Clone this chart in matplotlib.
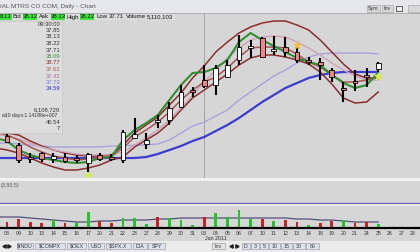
import matplotlib
matplotlib.use("Agg")
import matplotlib.pyplot as plt
from matplotlib.patches import Rectangle
from matplotlib import font_manager
import numpy as np

_names = {f.name for f in font_manager.fontManager.ttflist}
FONT = 'Liberation Sans Narrow' if 'Liberation Sans Narrow' in _names else 'Liberation Sans'
plt.rcParams['font.family'] = [FONT, 'DejaVu Sans']

# ---------------- data ----------------
date_labels = ['08', '09', '10', '13', '14', '15', '16', '17', '20', '21', '22', '23', '27', '28',
               '29', '30', '31', '03', '04', '05', '06', '07', '10', '11', '12', '13', '14', '18',
               '19', '20', '21', '24', '25', '26', '27', '28']

opens = [34.50, 34.05, 33.45, 33.65, 33.35, 33.45, 33.40, 33.15, 33.55, 33.45, 33.30, 34.40,
         34.10, 35.20, 35.30, 35.95, 36.80, 37.30, 37.05, 37.45, 38.30, 38.90, 39.40, 38.75,
         38.95, 38.70, 38.30, 38.20, 37.80, 36.90, 37.25, 37.55, 37.85]
highs = [34.65, 34.15, 33.65, 33.70, 33.65, 33.65, 33.55, 33.65, 33.65, 33.60, 34.80, 35.40,
         34.65, 35.55, 36.20, 37.05, 36.95, 38.05, 38.05, 38.30, 39.55, 39.30, 39.45, 39.50,
         39.45, 39.05, 38.45, 38.40, 37.90, 37.20, 37.80, 37.90, 38.22]
lows = [34.15, 33.15, 33.15, 33.20, 33.15, 33.15, 33.15, 32.70, 33.25, 33.25, 33.15, 34.35,
        33.85, 34.90, 35.05, 35.90, 36.45, 36.90, 36.55, 37.40, 38.05, 38.40, 38.40, 38.55,
        38.45, 38.15, 38.05, 37.30, 37.20, 36.20, 36.75, 36.95, 37.71]
closes = [34.20, 33.30, 33.35, 33.35, 33.50, 33.25, 33.30, 33.60, 33.35, 33.35, 34.70, 34.60,
          34.30, 35.30, 35.90, 36.70, 36.70, 37.00, 37.90, 38.05, 38.95, 39.00, 38.45, 38.85,
          38.70, 38.30, 38.20, 38.05, 37.45, 36.80, 37.15, 37.45, 38.13]

# indicator lines, from the session before Dec 08 (index -1) to Jan 25
line_start = -1
ma_green = [34.40, 34.25, 33.80, 33.55, 33.40, 33.30, 33.20, 33.15, 33.20, 33.40, 33.45, 34.30,
            34.80, 35.15, 35.55, 36.30, 37.05, 37.65, 37.70, 37.90, 38.30, 39.20, 39.65, 39.30,
            39.00, 38.70, 38.40, 38.20, 38.05, 37.55, 37.15, 36.90, 37.05, 37.65]
band_upper = [34.70, 34.65, 34.55, 34.25, 34.00, 33.80, 33.65, 33.55, 33.50, 33.50, 33.55, 34.05,
              34.65, 35.05, 35.45, 36.05, 36.65, 37.40, 38.00, 38.70, 39.20, 39.65, 39.95, 40.15,
              40.25, 40.25, 40.05, 39.80, 39.30, 38.70, 38.10, 37.60, 37.40, 37.40]
ma_redbrown = [34.70, 34.55, 34.30, 33.95, 33.70, 33.50, 33.40, 33.30, 33.35, 33.45, 33.50, 33.90,
               34.45, 34.80, 35.20, 35.70, 36.30, 36.80, 37.20, 37.45, 37.90, 38.45, 38.90, 38.95,
               38.95, 38.90, 38.60, 38.20, 37.95, 37.55, 37.20, 37.20, 37.30, 37.45]
ma_mauve = [34.60, 34.50, 34.35, 34.15, 33.95, 33.80, 33.70, 33.60, 33.55, 33.55, 33.55, 33.70,
            34.05, 34.40, 34.80, 35.30, 35.90, 36.55, 37.20, 37.80, 38.40, 38.90, 39.30, 39.45,
            39.50, 39.45, 39.20, 38.90, 38.55, 38.15, 37.80, 37.50, 37.30, 37.30]
band_lower = [33.90, 33.80, 33.65, 33.40, 33.15, 32.95, 32.80, 32.80, 32.90, 33.05, 33.30, 33.45,
              33.95, 34.30, 34.65, 35.15, 35.80, 36.40, 36.80, 37.20, 37.60, 38.05, 38.40, 38.55,
              38.55, 38.45, 38.30, 38.10, 37.70, 37.10, 36.40, 36.15, 36.20, 36.70]
ma_lavender = [34.15, 34.15, 34.10, 34.05, 34.00, 33.95, 33.95, 33.95, 33.95, 33.95, 34.00, 34.00,
               34.05, 34.05, 34.10, 34.30, 34.65, 35.00, 35.20, 35.50, 35.80, 36.30, 36.70, 37.10,
               37.50, 37.80, 38.15, 38.45, 38.60, 38.65, 38.65, 38.65, 38.65, 38.60]
ma_blue = [33.40, 33.40, 33.40, 33.40, 33.40, 33.40, 33.40, 33.40, 33.40, 33.40, 33.40, 33.40,
           33.40, 33.45, 33.60, 33.80, 34.00, 34.25, 34.45, 34.75, 35.05, 35.40, 35.80, 36.20,
           36.55, 36.90, 37.15, 37.40, 37.55, 37.65, 37.70, 37.70, 37.70, 37.70]

signal_idx = [7, 25, 32]
signal_price = [32.55, 39.05, 37.50]

volume_m = [7.2, 10.8, 7.2, 6.0, 9.6, 6.0, 6.0, 19.2, 8.4, 6.0, 12.0, 12.0, 4.8, 13.2, 12.0, 9.6,
            3.6, 13.2, 18.0, 13.2, 21.6, 10.8, 10.8, 8.4, 9.6, 7.2, 3.6, 6.0, 8.4, 9.6, 6.0, 7.2, 5.1]
volume_dir = ['d', 'd', 'd', 'd', 'u', 'd', 'u', 'u', 'd', 'd', 'u', 'u', 'u', 'd', 'u', 'u', 'u',
              'd', 'u', 'u', 'u', 'u', 'd', 'u', 'd', 'd', 'u', 'd', 'd', 'u', 'd', 'd', 'u']
volume_avg_m = [13.2, 13.2, 13.2, 12.0, 10.8, 9.6, 8.4, 7.2, 7.2, 8.4, 8.4, 9.6, 9.6, 9.6, 10.8,
                10.8, 12.0, 12.0, 12.0, 12.0, 12.0, 12.0, 12.0, 12.0, 12.0, 12.0, 10.8, 10.8, 9.6,
                9.6, 8.4, 7.2, 7.2, 7.2]

# ---------------- layout helpers ----------------
W, H = 420, 252
fig = plt.figure(figsize=(4.2, 2.52), dpi=100)
fig.patch.set_facecolor('#d5d5d5')


def box(x0, y0, x1, y1):
    return [x0 / W, 1 - y1 / H, (x1 - x0) / W, (y1 - y0) / H]


XLIM = (-0.603, 35.603)
CHART_BG = '#d6d6d6'

# ---------------- main price panel ----------------
ax = fig.add_axes(box(0, 13, 420, 178))
ax.set_facecolor(CHART_BG)
ax.set_xlim(*XLIM)
ax.set_ylim(32.40, 40.65)
ax.axis('off')
ax.add_patch(Rectangle((0, 0), 1, 1, transform=ax.transAxes, fc=CHART_BG, ec='none', zorder=0))
ax.axvline(17, color='#9a9a9a', lw=0.6, zorder=1)

lx = np.arange(line_start, line_start + len(ma_green))
ax.plot(lx, ma_blue, color='#3c3cd2', lw=1.6, zorder=2, solid_capstyle='butt')
ax.plot(lx, ma_lavender, color='#a9a2dc', lw=1.0, zorder=2)
ax.plot(lx, band_lower, color='#8a2e2e', lw=1.1, zorder=2)
ax.plot(lx, band_upper, color='#8a2e2e', lw=1.1, zorder=2)
ax.plot(lx, ma_mauve, color='#cfa2b6', lw=1.0, zorder=2)
ax.plot(lx, ma_redbrown, color='#a65454', lw=1.1, zorder=2)
ax.plot(lx, ma_green, color='#2f8f2f', lw=1.5, zorder=3)

for i, (o, h, l, c) in enumerate(zip(opens, highs, lows, closes)):
    ax.vlines(i, l, h, color='black', lw=1.5, zorder=4)
    up = c >= o
    ax.add_patch(Rectangle((i - 0.21, min(o, c)), 0.42, max(abs(c - o), 0.04),
                           fc='white' if up else '#f08686', ec='black', lw=0.6, zorder=5))

ax.plot(signal_idx[0], signal_price[0], marker='*', ms=5, color='#d6ec4a', ls='none', zorder=6)
ax.plot(signal_idx[1], signal_price[1], marker='*', ms=5, color='#f2c23c', ls='none', zorder=6)
ax.plot(signal_idx[2], signal_price[2], marker='*', ms=5, color='#d6ec4a', ls='none', zorder=6)

# ---------------- indicator panel ----------------
ai = fig.add_axes(box(0, 181, 420, 204))
ai.set_facecolor(CHART_BG)
ai.set_xlim(*XLIM)
ai.set_ylim(0, 1)
ai.axis('off')
ai.add_patch(Rectangle((0, 0), 1, 1, transform=ai.transAxes, fc=CHART_BG, ec='none', zorder=0))
ai.axhline(0.05, color='#6a64b0', lw=0.9)

# ---------------- volume panel ----------------
av = fig.add_axes(box(0, 206, 420, 228))
av.set_facecolor(CHART_BG)
av.set_xlim(*XLIM)
av.set_ylim(0, 26.4)
for s in av.spines.values():
    s.set_visible(False)
vcol = ['#22c622' if d == 'u' else '#cc2020' for d in volume_dir]
av.bar(np.arange(len(volume_m)), volume_m, width=0.25, color=vcol, zorder=3)
av.plot(np.arange(line_start, line_start + len(volume_avg_m)), volume_avg_m,
        color='#50507a', lw=0.9, zorder=2)
av.axhline(0, color='black', lw=1.6, zorder=4, clip_on=False)
av.set_yticks([])
av.set_xticks(np.arange(len(date_labels)))
av.set_xticklabels(date_labels, fontsize=3.8, color='#333333')
av.tick_params(axis='x', length=0, pad=2.0)

# ---------------- overlay (chrome) ----------------
ov = fig.add_axes([0, 0, 1, 1], zorder=10)
ov.set_xlim(0, W)
ov.set_ylim(H, 0)
ov.axis('off')
ov.patch.set_alpha(0)

# separators
ov.add_patch(Rectangle((0, 178), 420, 3, fc='#f2f2f2', ec='none'))
ov.add_patch(Rectangle((0, 204), 420, 2, fc='#e9e9e9', ec='none'))

# title bar
ov.add_patch(Rectangle((0, 0), 420, 12.5, fc='#e6e7ea', ec='none'))
ov.plot([0, 420], [12.5, 12.5], color='#a8a8a8', lw=0.6)
ov.text(0.5, 6.5, 'IAL MTRS CO COM, Daily - Chart', fontsize=4.6, color='#555555',
        va='center', ha='left')
for (x0, x1, t) in [(367, 380, 'Sym'), (382, 393, 'Inv')]:
    ov.add_patch(Rectangle((x0, 4.5), x1 - x0, 7, fc='#d8d8d8', ec='#9a9a9a', lw=0.4))
    ov.text((x0 + x1) / 2, 8.2, t, fontsize=3.8, ha='center', va='center', color='#333333')
ov.add_patch(Rectangle((395.5, 5.5), 6, 5, fc='#f4f4f4', ec='#444444', lw=0.6))
ov.add_patch(Rectangle((408, 4.5), 12, 7, fc='#d8d8d8', ec='#9a9a9a', lw=0.4))

# quote line
quote = [(0, 12, '8.13', True), (13, 21, 'Bid', False), (23, 37, '38.12', True),
         (40, 48, 'Ask', False), (51, 65, '38.13', True), (68, 78, 'High', False),
         (80, 94, '38.22', True), (97, 107, 'Low', False), (109, 123, '37.71', False),
         (126, 145, 'Volume', False), (147, 173, '5,110,103', False)]
ov.add_patch(Rectangle((0, 13.5), 175, 6.5, fc='#dcdcdc', ec='none'))
for x0, x1, t, g in quote:
    if g:
        ov.add_patch(Rectangle((x0, 14), x1 - x0, 5.8, fc='#3de33d', ec='none'))
    ov.text((x0 + x1) / 2, 17, t, fontsize=4.3, ha='center', va='center', color='#111111')

# left data window
ov.add_patch(Rectangle((-1, 20.5), 62.5, 112.5, fc='#dedede', ec='#c6c6c6', lw=0.5, alpha=0.92))
legend_rows = [(24, '09:30:00', '#333333'), (30.5, '37.85', '#333333'), (37, '38.13', '#333333'),
               (43.5, '38.22', '#333333'), (50, '37.71', '#333333'), (56.5, '38.09', '#3a8a3a'),
               (63, '38.77', '#8a2e2e'), (69.5, '37.62', '#b05a5a'), (76, '37.42', '#a86a96'),
               (82.5, '37.73', '#7a74cc'), (89, '34.59', '#3030d0'),
               (110, '6,108,729', '#333333'), (122, '40.54', '#333333'), (128, '7', '#333333')]
for y, t, c in legend_rows:
    ov.text(60, y, t, fontsize=4.2, ha='right', va='center', color=c)
ov.text(0.8, 116, 'w10 days:1.14186e+007', fontsize=3.7, ha='left', va='center',
        color='#333333')

ov.text(0.8, 185, '(3,50,5)', fontsize=3.8, ha='left', va='center', color='#555555')
ov.text(205, 238, 'Jan 2011', fontsize=3.8, ha='left', va='center', color='#333333')

# bottom tab bar
ov.add_patch(Rectangle((0, 241), 420, 11, fc='#ebebeb', ec='none'))
ov.plot([3.5], [246], marker='<', ms=2.4, color='#222222', ls='none')
ov.plot([9], [246], marker='>', ms=2.4, color='#222222', ls='none')
tabs = [(17, 33, '$INDU'), (35, 65, '$COMPX'), (67, 86, '$OEX'), (88, 104, 'USO'),
        (106, 131, '$SPX.X'), (133, 147, 'DIA'), (148, 165, 'SPY')]
for x0, x1, t in tabs:
    ov.add_patch(Rectangle((x0, 242.5), x1 - x0, 6.5, fc='#dfe4ec', ec='#8c8c9c', lw=0.4))
    ov.text((x0 + x1) / 2, 246, t, fontsize=3.8, ha='center', va='center', color='#333344',
            parse_math=False)
ov.add_patch(Rectangle((212, 242.5), 13, 6.5, fc='#e4e4e4', ec='#8c8c8c', lw=0.4))
ov.text(218.5, 246, 'Inv', fontsize=3.8, ha='center', va='center', color='#333333')
ov.plot([231], [246], marker='<', ms=2.4, color='#222222', ls='none')
ov.plot([237], [246], marker='>', ms=2.4, color='#222222', ls='none')
periods = [(242, 250, 'D'), (251, 259, '3'), (260, 268, '5'), (269, 280, '10'),
           (281, 292, '15'), (293, 305, '30'), (306, 319, '60')]
for x0, x1, t in periods:
    ov.add_patch(Rectangle((x0, 242.5), x1 - x0, 6.5, fc='#dfe4ec', ec='#8c8c9c', lw=0.4))
    ov.text((x0 + x1) / 2, 246, t, fontsize=3.8, ha='center', va='center', color='#333344')

fig.savefig('out.png', dpi=100, facecolor=fig.get_facecolor())
